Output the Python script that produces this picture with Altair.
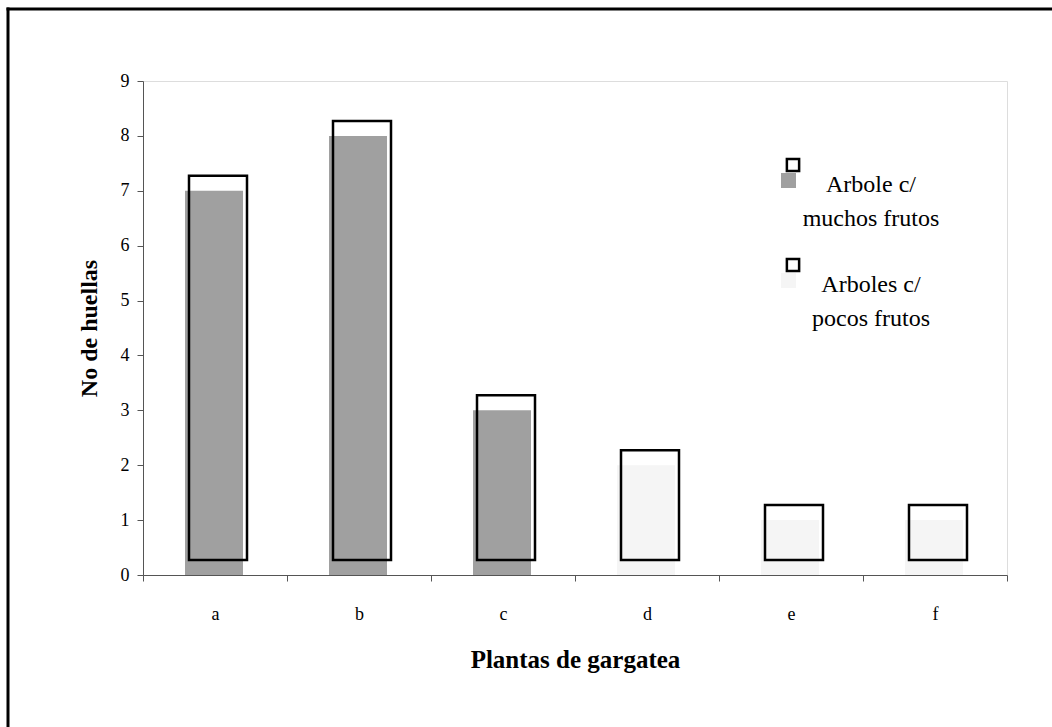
import altair as alt
import pandas as pd

# Footprint counts per gargatea plant
plantas = ["a", "b", "c", "d", "e", "f"]
huellas = [7, 8, 3, 2, 1, 1]
grupo = ["muchos", "muchos", "muchos", "pocos", "pocos", "pocos"]

df = pd.DataFrame({"planta": plantas, "huellas": huellas, "grupo": grupo})

SERIF = "Liberation Serif"
W, H = 864, 494
LEFT, TOP = 143, 81
TOTAL_W, TOTAL_H = 1052, 727

x_enc = alt.X(
    "planta:N",
    sort=plantas,
    scale=alt.Scale(paddingInner=0, paddingOuter=0),
    axis=alt.Axis(
        title="Plantas de gargatea",
        labelAngle=0,
        labelFont=SERIF,
        labelFontSize=18,
        labelColor="black",
        labelPadding=24,
        titleFont=SERIF,
        titleFontSize=25,
        titleFontWeight="bold",
        titleColor="black",
        titlePadding=24,
        domainColor="#555555",
        tickColor="#555555",
        tickSize=6,
        tickBand="extent",
        grid=False,
    ),
)
y_enc = alt.Y(
    "huellas:Q",
    scale=alt.Scale(domain=[0, 9], nice=False),
    axis=alt.Axis(
        title="No de huellas",
        values=list(range(10)),
        format="d",
        labelFont=SERIF,
        labelFontSize=18,
        labelColor="black",
        labelPadding=8,
        titleFont=SERIF,
        titleFontSize=24,
        titleFontWeight="bold",
        titleColor="black",
        titlePadding=19,
        domainColor="#555555",
        tickColor="#555555",
        tickSize=6,
        grid=False,
    ),
)

fill_bars = alt.Chart(df).mark_bar(size=58, xOffset=-1).encode(
    x=x_enc,
    y=y_enc,
    color=alt.Color(
        "grupo:N",
        scale=alt.Scale(domain=["muchos", "pocos"], range=["#a0a0a0", "#f5f5f5"]),
        legend=None,
    ),
)

outline_bars = alt.Chart(df).mark_bar(
    size=58, filled=False, stroke="black", strokeWidth=2.5,
    xOffset=3, yOffset=-15, y2Offset=-15,
).encode(x=alt.X("planta:N", sort=plantas), y="huellas:Q")

one = alt.Data(values=[{}])

# Outer frame: only its top and left edges fall inside the page
frame_top = alt.Chart(one).mark_rule(color="black", strokeWidth=3).encode(
    x=alt.value(-136.5), x2=alt.value(TOTAL_W - LEFT + 5), y=alt.value(-72)
)
frame_left = alt.Chart(one).mark_rule(color="black", strokeWidth=3).encode(
    x=alt.value(-135), y=alt.value(-73.5), y2=alt.value(TOTAL_H - TOP + 5)
)

# Legend drawn by hand: shaded swatch with an outlined box above it
def legend_entry(y0, color, lines):
    box = alt.Chart(one).mark_square(
        size=150, filled=False, stroke="black", strokeWidth=2.5, opacity=1
    ).encode(x=alt.value(650), y=alt.value(y0))
    swatch = alt.Chart(one).mark_square(size=225, color=color, opacity=1).encode(
        x=alt.value(645.5), y=alt.value(y0 + 15.5)
    )
    label = alt.Chart(one).mark_text(
        font=SERIF, fontSize=24, align="center", baseline="middle",
        color="black", lineHeight=34,
    ).encode(
        x=alt.value(728), y=alt.value(y0 + 20),
        text=alt.value(lines),
    )
    return [swatch, box, label]

legend_layers = (
    legend_entry(84, "#a0a0a0", ["Arbole c/", "muchos frutos"])
    + legend_entry(184, "#f5f5f5", ["Arboles c/", "pocos frutos"])
)

chart = alt.layer(
    frame_top, frame_left, fill_bars, outline_bars, *legend_layers
).properties(
    width=W, height=H,
    autosize=alt.AutoSizeParams(type="none"),
    padding={
        "left": LEFT, "top": TOP,
        "right": TOTAL_W - LEFT - W, "bottom": TOTAL_H - TOP - H,
    },
).configure_view(stroke=None).configure_axis(grid=False).configure(background="white")

chart.save("out.html", embed_options={"renderer": "svg", "actions": False})
